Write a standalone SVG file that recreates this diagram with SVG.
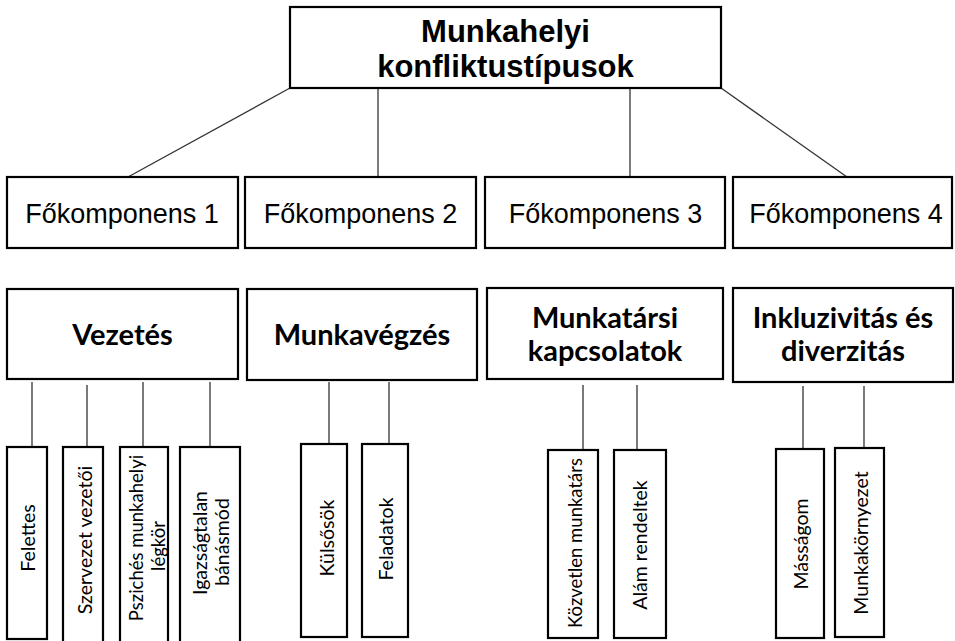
<svg xmlns="http://www.w3.org/2000/svg" width="955" height="641" viewBox="0 0 955 641">
<style>
.box{fill:#fff;stroke:#000;stroke-width:2.2}
.conn line{stroke:#333;stroke-width:1.3}
.title{font-family:"Liberation Sans",Arial,sans-serif;font-weight:bold;font-size:31px;fill:#000;text-anchor:middle}
.comp{font-family:"Liberation Sans",Arial,sans-serif;font-size:27px;fill:#000;text-anchor:middle}
.head{font-family:Lato,"Open Sans",sans-serif;font-weight:bold;font-size:29px;fill:#000;text-anchor:middle}
.leaf{font-family:Lato,"Open Sans",sans-serif;font-size:19.5px;fill:#000;text-anchor:middle}
.sm{font-size:18.5px}
</style>
<rect width="955" height="641" fill="#fff"/>
<g id="connectors" class="conn">
<line x1="290" y1="88" x2="128" y2="177"/>
<line x1="378" y1="88" x2="378" y2="177"/>
<line x1="630" y1="88" x2="630" y2="177"/>
<line x1="721" y1="88" x2="847" y2="177"/>
<line x1="32" y1="382" x2="32" y2="447"/>
<line x1="87" y1="385" x2="87" y2="447"/>
<line x1="143" y1="382" x2="143" y2="447"/>
<line x1="210" y1="382" x2="210" y2="447"/>
<line x1="329" y1="382" x2="329" y2="444"/>
<line x1="389" y1="382" x2="389" y2="444"/>
<line x1="583" y1="385" x2="583" y2="450"/>
<line x1="637" y1="385" x2="637" y2="450"/>
<line x1="803" y1="386" x2="803" y2="449"/>
<line x1="864" y1="386" x2="864" y2="448"/>
</g>
<g id="root">
<rect class="box" x="290" y="7" width="431" height="81"/>
<text class="title" x="505.5" y="42">Munkahelyi</text>
<text class="title" x="505.5" y="77">konfliktustípusok</text>
</g>
<g id="fo1"><rect class="box" x="7" y="177" width="231" height="71"/><text class="comp" x="122" y="223">Főkomponens 1</text></g>
<g id="fo2"><rect class="box" x="245" y="177" width="231" height="71"/><text class="comp" x="360.5" y="223">Főkomponens 2</text></g>
<g id="fo3"><rect class="box" x="485" y="177" width="240" height="71"/><text class="comp" x="605.5" y="223">Főkomponens 3</text></g>
<g id="fo4"><rect class="box" x="733" y="177" width="219" height="71"/><text class="comp" x="846" y="223">Főkomponens 4</text></g>
<g id="vezetes"><rect class="box" x="7" y="289" width="231" height="90"/><text class="head" x="122.5" y="345">Vezetés</text></g>
<g id="munkavegzes"><rect class="box" x="247" y="289" width="230" height="91"/><text class="head" x="362" y="345">Munkavégzés</text></g>
<g id="munkatarsi"><rect class="box" x="487" y="288" width="236" height="91"/><text class="head" x="605" y="328">Munkatársi</text><text class="head" x="605" y="361">kapcsolatok</text></g>
<g id="inkluzivitas"><rect class="box" x="733" y="288" width="220" height="94"/><text class="head" x="843" y="328">Inkluzivitás és</text><text class="head" x="843" y="361">diverzitás</text></g>
<g id="felettes"><rect class="box" x="7" y="447" width="40" height="192"/><text class="leaf" transform="translate(35,538) rotate(-90)">Felettes</text></g>
<g id="szervezet"><rect class="box" x="63" y="447" width="40" height="197"/><text class="leaf" transform="translate(92,540) rotate(-90)">Szervezet vezetői</text></g>
<g id="psziches"><rect class="box" x="120" y="447" width="48" height="197"/><text class="leaf sm" transform="translate(143,538) rotate(-90)">Pszichés munkahelyi</text><text class="leaf sm" transform="translate(165,546) rotate(-90)">légkör</text></g>
<g id="igazsagtalan"><rect class="box" x="180" y="447" width="60" height="197"/><text class="leaf" transform="translate(207,543) rotate(-90)">Igazságtalan</text><text class="leaf" transform="translate(229,542) rotate(-90)">bánásmód</text></g>
<g id="kulsosok"><rect class="box" x="301" y="444" width="46" height="193"/><text class="leaf" transform="translate(334,538) rotate(-90)">Külsősök</text></g>
<g id="feladatok"><rect class="box" x="362" y="444" width="46" height="193"/><text class="leaf" transform="translate(393,539) rotate(-90)">Feladatok</text></g>
<g id="kozvetlen"><rect class="box" x="548" y="450" width="50" height="188"/><text class="leaf sm" transform="translate(582,543) rotate(-90)">Közvetlen munkatárs</text></g>
<g id="alam"><rect class="box" x="614" y="450" width="52" height="188"/><text class="leaf" transform="translate(647,545) rotate(-90)">Alám rendeltek</text></g>
<g id="massagom"><rect class="box" x="776" y="449" width="48" height="189"/><text class="leaf" transform="translate(808,544) rotate(-90)">Másságom</text></g>
<g id="munkakornyezet"><rect class="box" x="835" y="448" width="49" height="189"/><text class="leaf" transform="translate(868,543) rotate(-90)">Munkakörnyezet</text></g>
</svg>
